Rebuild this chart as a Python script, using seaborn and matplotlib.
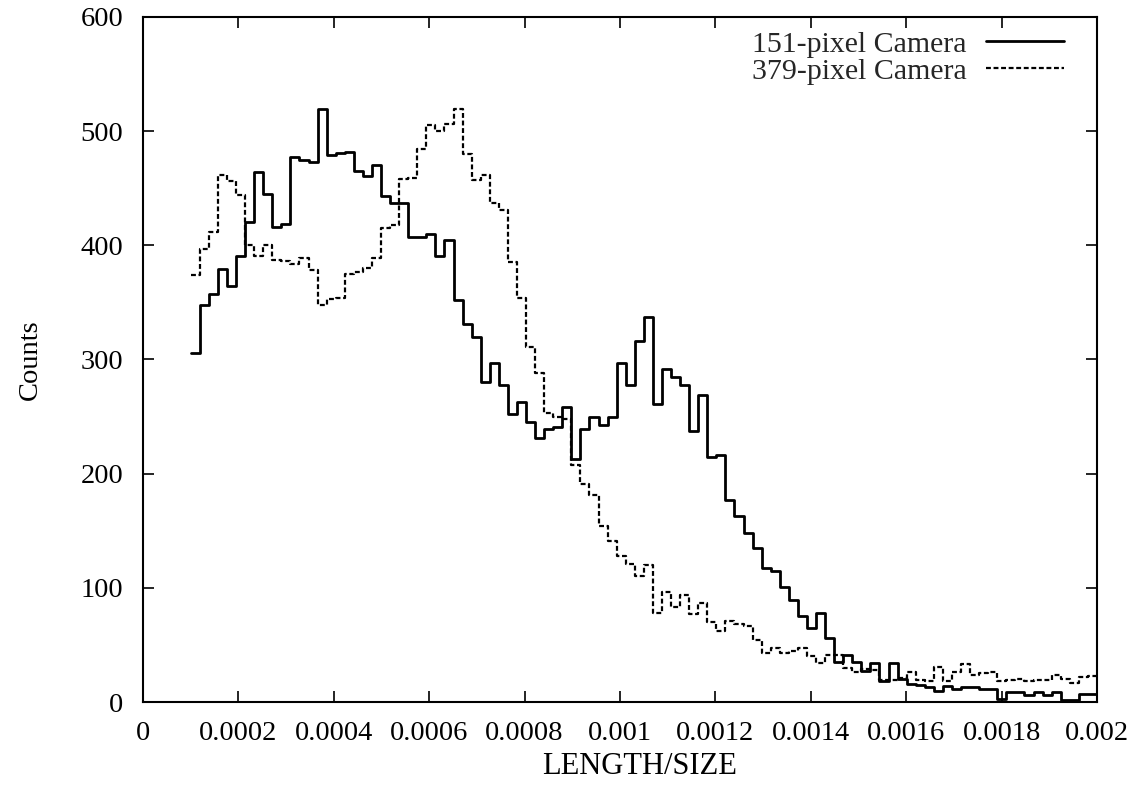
import numpy as np
import pandas as pd
import matplotlib
matplotlib.use("Agg")
import matplotlib.pyplot as plt
from matplotlib.lines import Line2D
import seaborn as sns

# ---- data ----
bin_lo = 0.0001
bin_hi = 0.002
n_bins = 100

cam151 = [306, 348, 357, 379, 364, 391, 420, 464, 445, 416,
          419, 477, 475, 473, 519, 479, 481, 482, 465, 461,
          470, 443, 437, 437, 407, 407, 410, 391, 405, 352,
          331, 320, 280, 297, 278, 252, 263, 245, 231, 239,
          241, 258, 213, 239, 250, 243, 250, 297, 278, 316,
          337, 261, 292, 285, 278, 237, 269, 215, 216, 177,
          163, 148, 135, 117, 115, 101, 89, 75, 65, 78,
          56, 35, 41, 35, 27, 34, 18, 34, 20, 16,
          15, 13, 10, 14, 11, 13, 13, 11, 11, 3,
          9, 9, 6, 9, 6, 9, 2, 2, 7, 7]

cam379 = [374, 397, 412, 462, 456, 444, 400, 391, 400, 387,
          386, 384, 389, 378, 348, 353, 354, 375, 377, 380,
          389, 415, 418, 458, 459, 484, 505, 500, 506, 519,
          480, 457, 462, 437, 431, 385, 354, 311, 288, 253,
          250, 248, 208, 191, 181, 154, 141, 128, 121, 110,
          120, 78, 96, 83, 94, 77, 87, 70, 62, 71,
          68, 67, 54, 43, 47, 43, 45, 47, 40, 34,
          41, 41, 30, 26, 29, 28, 19, 19, 21, 26,
          19, 18, 31, 18, 26, 33, 24, 25, 26, 18,
          19, 20, 18, 19, 19, 24, 20, 17, 22, 23]

series_labels = ["151-pixel Camera", "379-pixel Camera"]
xtick_vals = [0, 0.0002, 0.0004, 0.0006, 0.0008, 0.001,
              0.0012, 0.0014, 0.0016, 0.0018, 0.002]
xtick_labels = ["0", "0.0002", "0.0004", "0.0006", "0.0008", "0.001",
                "0.0012", "0.0014", "0.0016", "0.0018", "0.002"]
ytick_vals = [0, 100, 200, 300, 400, 500, 600]
x_label = "LENGTH/SIZE"
y_label = "Counts"

# ---- plot ----
sns.set_theme(style="ticks")
plt.rcParams["font.family"] = ["Liberation Serif", "DejaVu Serif"]

edges = np.linspace(bin_lo, bin_hi, n_bins + 1)
centers = (edges[:-1] + edges[1:]) / 2

fig = plt.figure(figsize=(11.44, 7.9), dpi=100)
ax = fig.add_axes([143 / 1144, 1 - 702 / 790, 954 / 1144, 685 / 790])

dash = (0, (2.2, 1.2))
styles = [("-", 2.0), (dash, 1.6)]
for counts, (ls, lw) in zip([cam151, cam379], styles):
    df = pd.DataFrame({"x": centers, "w": counts})
    sns.histplot(data=df, x="x", weights="w", bins=edges.tolist(),
                 element="step", fill=False, color="black",
                 linewidth=lw, linestyle=ls, ax=ax)

ax.set_xlim(0, 0.002)
ax.set_ylim(0, 600)
ax.set_xticks(xtick_vals)
ax.set_xticklabels(xtick_labels)
ax.set_yticks(ytick_vals)
ax.set_yticklabels([str(v) for v in ytick_vals])

ax.tick_params(axis="both", direction="in", length=8, width=1.2,
               top=True, right=True, labelsize=20.5, colors="black")
ax.tick_params(axis="x", pad=14)
ax.tick_params(axis="y", pad=14)
for s in ax.spines.values():
    s.set_linewidth(1.5)
    s.set_color("black")
    s.set_visible(True)

ax.set_xlabel(x_label, fontsize=22, color="black")
ax.set_ylabel(y_label, fontsize=20.5, color="black")
ax.xaxis.label.set_va("center")
ax.yaxis.label.set_va("center")
ax.xaxis.set_label_coords((640 - 143) / 954, -(767 - 702) / 685)
ax.yaxis.set_label_coords((30 - 143) / 954, (702 - 360) / 685)

handles = [Line2D([], [], color="black", linewidth=lw, linestyle=ls)
           for ls, lw in styles]
ax.legend(handles, series_labels, loc="upper right",
          bbox_to_anchor=((1064 - 143) / 954, 1 - 14 / 685),
          frameon=False, markerfirst=False, fontsize=21.5,
          handlelength=2.6, handletextpad=0.65, labelspacing=0.0,
          borderpad=0, borderaxespad=0)

fig.savefig("out.png", dpi=100)
